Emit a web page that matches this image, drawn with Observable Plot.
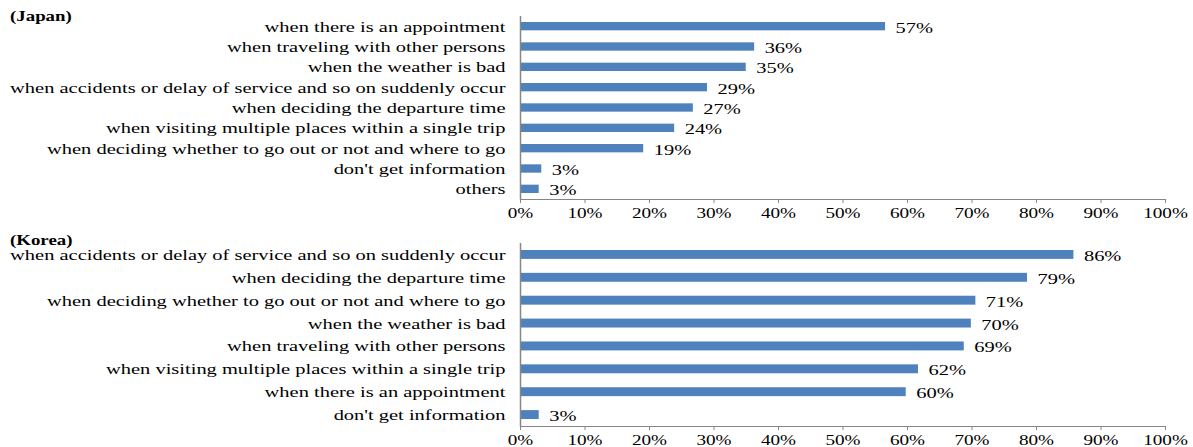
<!DOCTYPE html>
<html>
<head>
<meta charset="utf-8">
<script src="https://cdn.jsdelivr.net/npm/d3@7"></script>
<script src="https://cdn.jsdelivr.net/npm/@observablehq/plot@0.6"></script>
<style>
  body { margin: 0; background: #fff; }
  #wrap { position: relative; width: 1193px; height: 447px; }
  #wrap svg { display: block; }
  .ttl { position: absolute; left: 10px; font-family: "Liberation Serif", "Times New Roman", serif; font-weight: bold;
         font-size: 14.5px; transform: scaleX(1.3); transform-origin: left top; line-height: 1; }
</style>
</head>
<body>
<div id="wrap">
  <div class="ttl" id="t1" style="top:9px">(Japan)</div>
  <div class="ttl" id="t2" style="top:233px">(Korea)</div>
</div>
<script>
const jpCategories = [
  "when there is an appointment",
  "when traveling with other persons",
  "when the weather is bad",
  "when accidents or delay of service and so on suddenly occur",
  "when deciding the departure time",
  "when visiting multiple places within a single trip",
  "when deciding whether to go out or not and where to go",
  "don't get information",
  "others"
];
const jpValues = [56.6, 36.3, 35.0, 29.0, 26.8, 23.9, 19.1, 3.3, 2.9];

const krCategories = [
  "when accidents or delay of service and so on suddenly occur",
  "when deciding the departure time",
  "when deciding whether to go out or not and where to go",
  "when the weather is bad",
  "when traveling with other persons",
  "when visiting multiple places within a single trip",
  "when there is an appointment",
  "don't get information"
];
const krValues = [85.8, 78.6, 70.6, 69.9, 68.8, 61.7, 59.8, 2.9];

const xTicks = [0, 10, 20, 30, 40, 50, 60, 70, 80, 90, 100];
const barColor = "#4F81BD";
const axisColor = "#868686";
const STRETCH = 1.32;

function makeChart(cats, vals, opts) {
  const data = cats.map((c, i) => ({c, v: vals[i]}));
  return Plot.plot({
    width: 1193,
    height: opts.height,
    marginLeft: 520,
    marginRight: 28,
    marginTop: opts.marginTop,
    marginBottom: opts.marginBottom,
    style: {fontFamily: "'Liberation Serif', 'Times New Roman', serif", fontSize: "15.5px", color: "#000", background: "#fff"},
    x: {domain: [0, 100], label: null},
    y: {domain: cats, paddingInner: opts.pad, paddingOuter: opts.pad / 2, round: false, label: null},
    marks: [
      Plot.barX(data, {x: "v", y: "c", fill: barColor}),
      Plot.text(data, {x: "v", y: "c", text: d => Math.round(d.v) + "%", textAnchor: "start", dx: 10, dy: 1, fill: "#000", fontSize: 15.5}),
      Plot.ruleX([0], {stroke: axisColor, strokeWidth: 1.5}),
      Plot.frame({anchor: "bottom", stroke: axisColor, strokeWidth: 1.2}),
      Plot.axisX({ticks: xTicks, tickFormat: d => d + "%", tickSize: 4, tickPadding: 4, fontSize: 14.5, stroke: axisColor, fill: "#000", label: null}),
      Plot.axisY({tickSize: 0, tickPadding: 15, fill: "#000", label: null})
    ]
  });
}

const wrap = document.getElementById("wrap");
const c1 = makeChart(jpCategories, jpValues, {height: 224, marginTop: 16, marginBottom: 25, pad: 0.59});
const c2 = makeChart(krCategories, krValues, {height: 223, marginTop: 19, marginBottom: 21, pad: 0.61});
wrap.appendChild(c1);
wrap.appendChild(c2);

for (const svg of [c1, c2]) {
  svg.querySelectorAll("text").forEach(t => {
    const L = t.getComputedTextLength();
    if (L > 0) {
      t.setAttribute("textLength", L * STRETCH);
      t.setAttribute("lengthAdjust", "spacingAndGlyphs");
    }
  });
}
</script>
</body>
</html>
